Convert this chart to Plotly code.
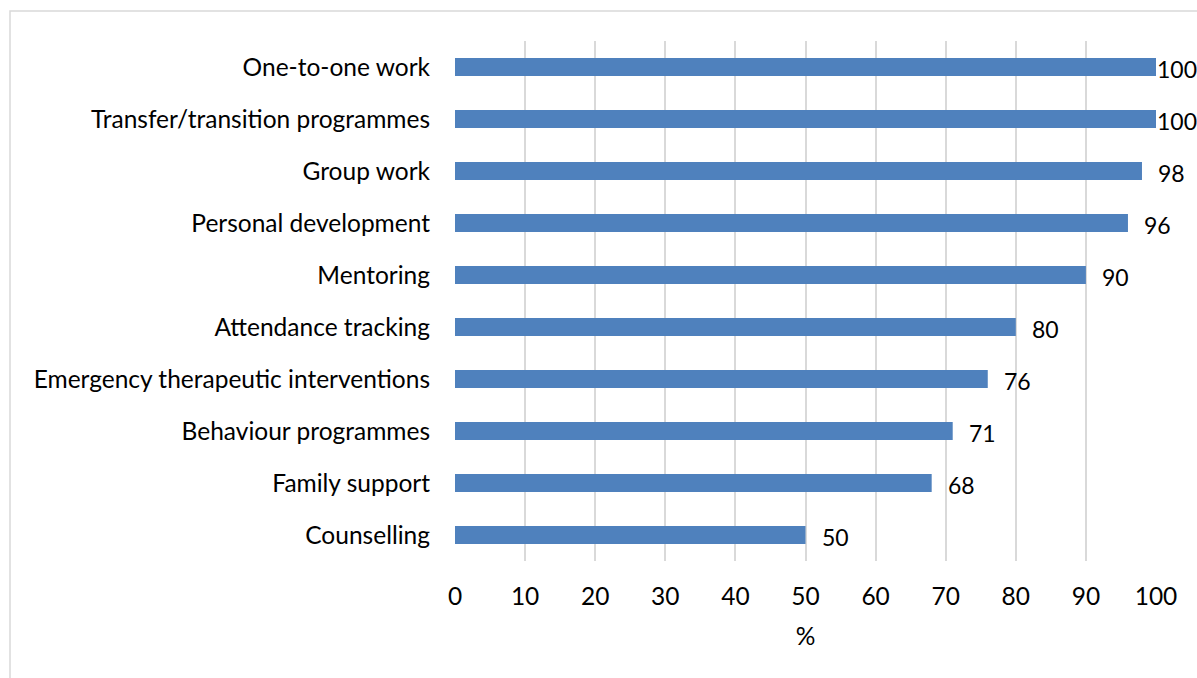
import plotly.graph_objects as go

categories = [
    "One-to-one work",
    "Transfer/transition programmes",
    "Group work",
    "Personal development",
    "Mentoring",
    "Attendance tracking",
    "Emergency therapeutic interventions",
    "Behaviour programmes",
    "Family support",
    "Counselling",
]
values = [100, 100, 98, 96, 90, 80, 76, 71, 68, 50]
x_ticks = list(range(0, 101, 10))

W, H = 1197, 678
L, R, T, B = 455, 41, 41, 117
pw, ph = W - L - R, H - T - B

FONT = "Lato, Carlito, Calibri, sans-serif"
FS = 24.5
LABEL_FS = 23
TXT = "#000000"

fig = go.Figure(
    go.Bar(
        y=categories,
        x=values,
        orientation="h",
        marker=dict(color="#4F81BD", line=dict(width=0)),
        width=0.35,
        hoverinfo="x+y",
    )
)

# value labels after each bar end; pulled in when they would run past the frame
gap_px = 15
digit_w = 0.58 * LABEL_FS
for cat, v in zip(categories, values):
    end_px = v / 100 * pw
    room = pw + R - 2 - end_px
    label_w = digit_w * len(str(v))
    shift = max(0, min(gap_px, room - label_w))
    fig.add_annotation(
        x=v, y=cat, xref="x", yref="y",
        text=str(v), showarrow=False,
        xanchor="left", yanchor="middle",
        xshift=shift, yshift=-2, borderpad=0,
        font=dict(family=FONT, size=LABEL_FS, color=TXT),
    )

# light frame around the chart area
fig.add_shape(
    type="rect",
    xref="paper", yref="paper",
    x0=(10 - L) / pw, x1=(W + 20 - L) / pw,
    y0=(H - B - (H + 20)) / ph, y1=1 + (T - 11) / ph,
    line=dict(color="#D9D9D9", width=1.5),
    fillcolor="rgba(0,0,0,0)",
    layer="below",
)

fig.update_layout(
    width=W, height=H,
    margin=dict(l=L, r=R, t=T, b=B),
    plot_bgcolor="white",
    paper_bgcolor="white",
    showlegend=False,
    font=dict(family=FONT, size=FS, color=TXT),
    xaxis=dict(
        range=[0, 100],
        tickvals=x_ticks,
        ticktext=[str(t) for t in x_ticks],
        showgrid=True,
        gridcolor="#D9D9D9",
        gridwidth=1.5,
        zeroline=False,
        showline=False,
        ticks="",
        ticklabelstandoff=18,
        tickfont=dict(family=FONT, size=FS, color=TXT),
        title=dict(text="%", font=dict(family=FONT, size=FS, color=TXT), standoff=19),
    ),
    yaxis=dict(
        categoryorder="array",
        categoryarray=categories[::-1],
        showgrid=False,
        zeroline=False,
        showline=False,
        ticks="",
        ticklabelstandoff=24,
        tickfont=dict(family=FONT, size=FS, color=TXT),
        range=[-0.5, len(categories) - 0.5],
    ),
)

fig.write_html("out.html")
